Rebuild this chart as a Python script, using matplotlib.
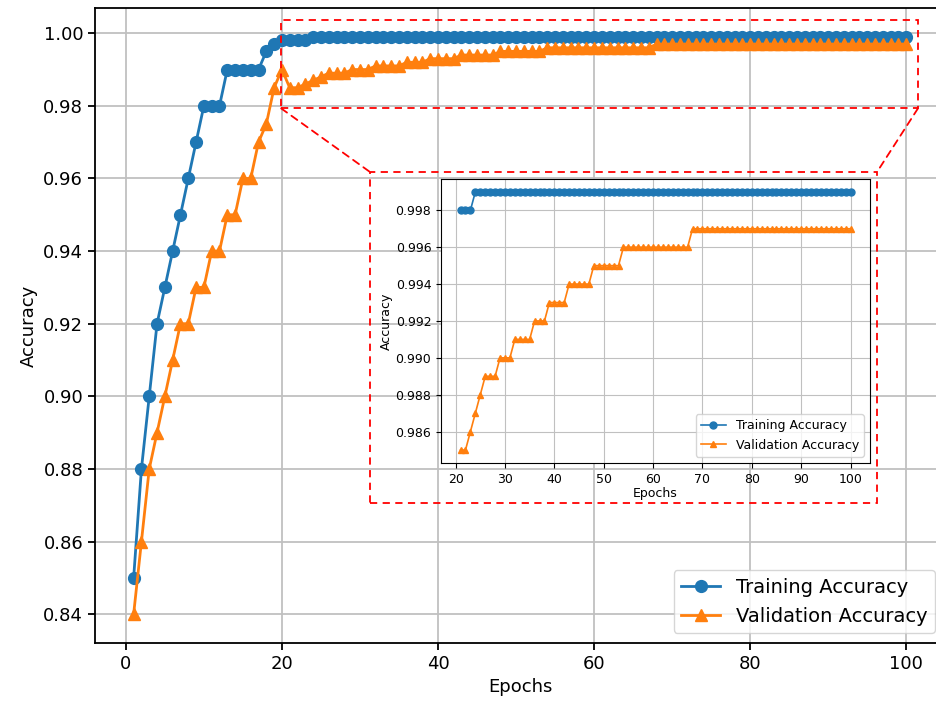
import numpy as np
import matplotlib
matplotlib.use('Agg')
import matplotlib.pyplot as plt
from matplotlib.patches import Rectangle, ConnectionPatch

epochs = np.arange(1, 101)

# training accuracy, epochs 1-20 then flat
train_early = [0.85, 0.88, 0.90, 0.92, 0.93, 0.94, 0.95, 0.96, 0.97, 0.98,
               0.98, 0.98, 0.99, 0.99, 0.99, 0.99, 0.99, 0.995, 0.997, 0.998]
train_late = [0.998, 0.998, 0.998] + [0.999] * 77
train_acc = np.array(train_early + train_late)

# validation accuracy
val_early = [0.84, 0.86, 0.88, 0.89, 0.90, 0.91, 0.92, 0.92, 0.93, 0.93,
             0.94, 0.94, 0.95, 0.95, 0.96, 0.96, 0.97, 0.975, 0.985, 0.99]
val_late = ([0.985, 0.985, 0.986, 0.987, 0.988, 0.989, 0.989, 0.989]
            + [0.990] * 3 + [0.991] * 4 + [0.992] * 3 + [0.993] * 4
            + [0.994] * 5 + [0.995] * 6 + [0.996] * 14 + [0.997] * 33)
val_acc = np.array(val_early + val_late)

fig = plt.figure(figsize=(9.36, 7.02), dpi=100)
ax = fig.add_axes([0.1015, 0.084, 0.908, 0.9046])

ax.plot(epochs, train_acc, marker='o', ms=8.5, lw=2, label='Training Accuracy')
ax.plot(epochs, val_acc, marker='^', ms=8.5, lw=2, label='Validation Accuracy')
ax.set_xlabel('Epochs', fontsize=13)
ax.set_ylabel('Accuracy', fontsize=13)
ax.tick_params(labelsize=13, width=1.3, length=5)
ax.grid(True, lw=1.3, color='#c0c0c0')
ax.legend(loc='lower right', fontsize=14, borderaxespad=0.5)
for s in ax.spines.values():
    s.set_linewidth(1.3)
# freeze the limits the data gave before the zoom box goes in
ax.set_xlim(ax.get_xlim())
ax.set_ylim(ax.get_ylim())

# zoomed inset
axins = fig.add_axes([0.4712, 0.3405, 0.4583, 0.4046])
m = epochs > 20
axins.plot(epochs[m], train_acc[m], marker='o', ms=5, lw=1.2, label='Training Accuracy')
axins.plot(epochs[m], val_acc[m], marker='^', ms=5, lw=1.2, label='Validation Accuracy')
axins.set_xlabel('Epochs', fontsize=9, labelpad=1)
axins.set_ylabel('Accuracy', fontsize=9, labelpad=2)
axins.tick_params(labelsize=9)
axins.grid(True, color='#c0c0c0')
axins.legend(loc='lower right', fontsize=9)

# highlight boxes and connectors
dash = (0, (4, 3))
rect = Rectangle((19.9, 0.9793), 81.6, 0.0243, fill=False, ec='red',
                 ls=dash, lw=1.3, zorder=5, clip_on=False)
ax.add_patch(rect)
box = Rectangle((0.3953, 0.2835), 0.5417, 0.4715, transform=fig.transFigure,
                fill=False, ec='red', ls=dash, lw=1.3)
fig.patches.append(box)
for xd, xf in [(19.9, 0.3953), (101.5, 0.937)]:
    con = ConnectionPatch(xyA=(xd, 0.9793), coordsA=ax.transData,
                          xyB=(xf, 0.755), coordsB=fig.transFigure,
                          color='red', ls=dash, lw=1.3)
    fig.add_artist(con)

fig.savefig('out.png', dpi=100)
